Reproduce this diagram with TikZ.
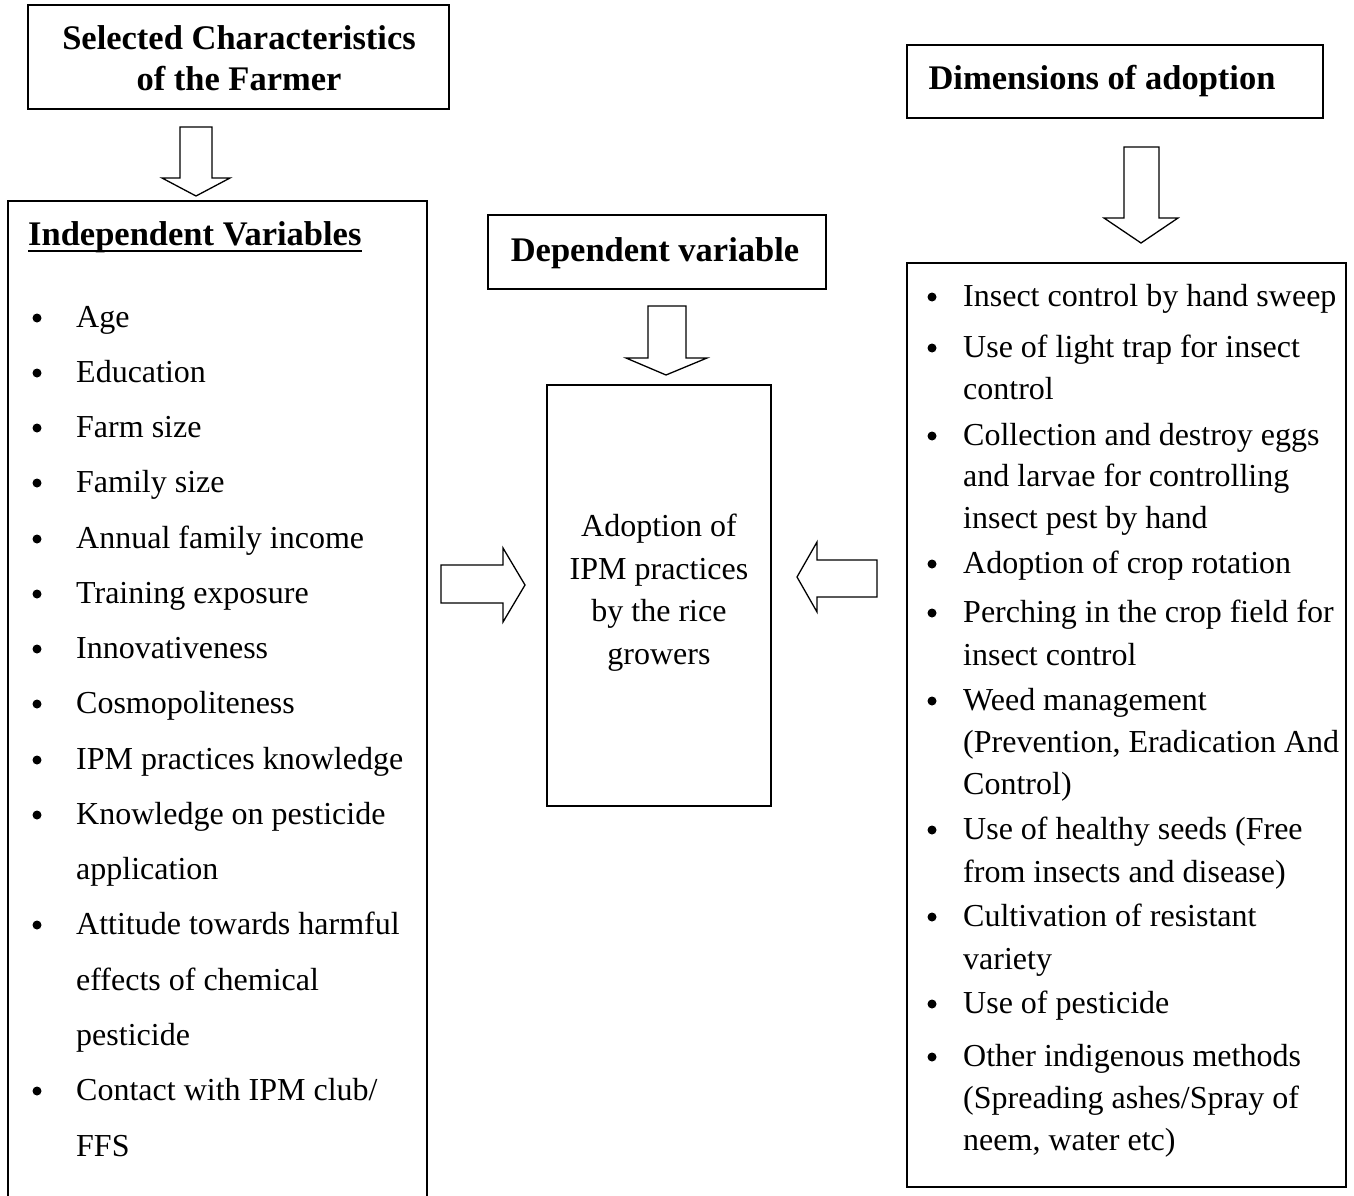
\documentclass[tikz,border=0pt]{standalone}
\usepackage{fontspec}
\setmainfont{Liberation Serif}
\begin{document}
\begin{tikzpicture}[x=1pt,y=-1pt,
  box/.style={draw,line width=1.6pt},
  blk/.style={draw,line width=1.3pt,fill=white,line join=miter},
  body/.style={inner sep=0pt,font=\fontsize{32}{42}\selectfont},
  ttl/.style={inner sep=0pt,font=\fontsize{34.5}{41}\selectfont\bfseries},
  bul/.style={circle,fill=black,inner sep=0pt,minimum size=9pt}]
\useasboundingbox (0,0) rectangle (1354,1196);
% boxes
\draw[box] (28,5) rectangle (449,109);
\draw[box] (8,1215) -- (8,201) -- (427,201) -- (427,1215);
\draw[box] (488,215) rectangle (826,289);
\draw[box] (547,385) rectangle (771,806);
\draw[box] (907,45) rectangle (1323,118);
\draw[box] (907,263) rectangle (1346,1187);
% titles
\node[ttl,anchor=base] (t1) at (239,50) {Selected Characteristics};
\node[ttl,anchor=base] (t2) at (239,91) {of the Farmer};
\node[ttl,anchor=base] (t3) at (1102,90) {Dimensions of adoption};
\node[ttl,anchor=base] (t4) at (655,261) {Dependent variable};
\node[ttl,anchor=base west] (t5) at (28,245) {Independent Variables};
\draw[line width=2.4pt] (28,251) -- (t5.base east |- 0,251);
% centre text
\foreach \y/\t [count=\i] in {527/Adoption of,570/IPM practices,612/by the rice,655/growers}
  \node[body,anchor=base] (c\i) at (659,\y+9) {\t};
% left list
\foreach \y/\t/\b [count=\i] in {318/Age/1,373/Education/1,428/Farm size/1,483/Family size/1,
  539/Annual family income/1,594/Training exposure/1,649/Innovativeness/1,704/Cosmopoliteness/1,
  760/IPM practices knowledge/1,815/Knowledge on pesticide/1,870/application/0,
  925/Attitude towards harmful/1,981/effects of chemical/0,1036/pesticide/0,
  1091/Contact with IPM club\slash/1,1147/FFS/0}{
  \node[body,anchor=base west] (l\i) at (76,\y+9) {\t};
  \ifnum\b=1 \node[bul] (lb\i) at (37,\y) {};\fi
}
% right list
\foreach \y/\t/\b [count=\i] in {297/Insect control by hand sweep/1,348/Use of light trap for insect/1,
  390/control/0,436/Collection and destroy eggs/1,477/and larvae for controlling/0,
  519/insect pest by hand/0,564/Adoption of crop rotation/1,613/Perching in the crop field for/1,
  656/insect control/0,701/Weed management/1,743/{(Prevention, Eradication And}/0,785/Control)/0,
  830/Use of healthy seeds (Free/1,873/from insects and disease)/0,917/Cultivation of resistant/1,
  960/variety/0,1004/Use of pesticide/1,1057/Other indigenous methods/1,
  1099/(Spreading ashes\slash Spray of/0,1141/{neem, water etc)}/0}{
  \node[body,anchor=base west] (r\i) at (963,\y+9) {\t};
  \ifnum\b=1 \node[bul] (rb\i) at (932,\y) {};\fi
}
% block arrows
\draw[blk] (180,127) -- (212,127) -- (212,178) -- (230,178) -- (196,196) -- (162,178) -- (180,178) -- cycle;
\draw[blk] (648,306) -- (686,306) -- (686,358) -- (707,358) -- (666,375) -- (626,358) -- (648,358) -- cycle;
\draw[blk] (1124,147) -- (1159,147) -- (1159,218) -- (1178,218) -- (1141,243) -- (1104,218) -- (1124,218) -- cycle;
\draw[blk] (441,565) -- (503,565) -- (503,548) -- (525,585) -- (503,622) -- (503,603) -- (441,603) -- cycle;
\draw[blk] (877,560) -- (817,560) -- (817,542) -- (797,577) -- (817,612) -- (817,597) -- (877,597) -- cycle;
\end{tikzpicture}
\end{document}
